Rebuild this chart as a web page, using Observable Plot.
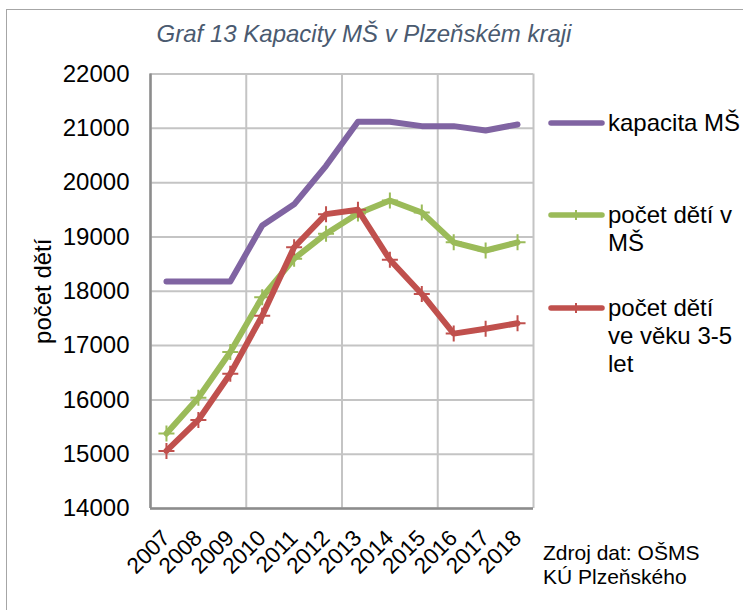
<!DOCTYPE html>
<html>
<head>
<meta charset="utf-8">
<script src="https://cdn.jsdelivr.net/npm/d3@7"></script>
<script src="https://cdn.jsdelivr.net/npm/@observablehq/plot@0.6"></script>
<style>
  html, body { margin: 0; padding: 0; background: #fff; }
  #wrap { position: relative; width: 743px; height: 610px; overflow: hidden; font-family: "Liberation Sans", Arial, sans-serif; }
  #border { position: absolute; left: 6px; top: 9px; width: 800px; height: 700px; border: 1.5px solid #a6a6a6; box-sizing: border-box; }
  #chart { position: absolute; left: 0; top: 0; }
  #title { position: absolute; left: 0; width: 728px; top: 20px; text-align: center; font-style: italic; font-size: 24px; color: #4a5a70; white-space: nowrap; }
  .leg { position: absolute; left: 547px; }
  .leg svg { position: absolute; left: 0; top: 0; }
  .leg .txt { position: absolute; left: 61px; top: 0; font-size: 24px; line-height: 28px; color: #000; white-space: nowrap; }
  #source { position: absolute; left: 543px; top: 541px; font-size: 21px; line-height: 23.5px; color: #000; white-space: nowrap; }
</style>
</head>
<body>
<div id="wrap">
  <div id="border"></div>
  <div id="chart"></div>
  <div id="title">Graf 13 Kapacity MŠ v Plzeňském kraji</div>
  <div id="legend"></div>
  <div id="source">Zdroj dat: OŠMS<br>KÚ Plzeňského</div>
</div>
<script>
const years = [2007, 2008, 2009, 2010, 2011, 2012, 2013, 2014, 2015, 2016, 2017, 2018];
const kapacitaMS = [18180, 18180, 18180, 19210, 19600, 20310, 21120, 21120, 21040, 21040, 20960, 21070];
const detiVMS = [15380, 16040, 16880, 17890, 18600, 19060, 19430, 19670, 19450, 18900, 18750, 18900];
const deti35 = [15060, 15630, 16480, 17550, 18810, 19420, 19500, 18580, 17950, 17220, 17310, 17410];
const yTicks = [14000, 15000, 16000, 17000, 18000, 19000, 20000, 21000, 22000];
const seriesNames = ["kapacita MŠ", "počet dětí v\nMŠ", "počet dětí\nve věku 3-5\nlet"];
const seriesColors = ["#8064A2", "#9BBB59", "#C0504D"];
const yLabel = "počet dětí";

const rows = (vals, s) => years.map((y, i) => ({year: y, value: vals[i], series: s}));
const dK = rows(kapacitaMS, 0), dM = rows(detiVMS, 1), dR = rows(deti35, 2);

// vertical gridlines every 3 categories (category boundaries)
const xGrid = years.filter((d, i) => i % 3 === 0).map(d => d - 0.5).concat([years[years.length - 1] + 0.5]);

const plusSym = {
  draw(ctx, size) {
    const r = Math.sqrt(size / Math.PI);
    ctx.moveTo(-r, 0); ctx.lineTo(r, 0);
    ctx.moveTo(0, -r); ctx.lineTo(0, r);
  }
};

const chart = Plot.plot({
  width: 743,
  height: 610,
  marginLeft: 150,
  marginRight: 210,
  marginTop: 73.5,
  marginBottom: 102,
  style: {fontFamily: "'Liberation Sans', Arial, sans-serif", fontSize: "24px", color: "#000", background: "transparent", overflow: "visible"},
  x: {type: "linear", domain: [years[0] - 0.5, years[years.length - 1] + 0.5], axis: null},
  y: {type: "linear", domain: [yTicks[0], yTicks[yTicks.length - 1]], axis: null},
  marks: [
    Plot.ruleY(yTicks, {stroke: "#c4c4c4", strokeWidth: 2}),
    Plot.ruleX(xGrid, {stroke: "#c4c4c4", strokeWidth: 2}),
    Plot.ruleX([xGrid[0]], {stroke: "#8c8c8c", strokeWidth: 2.5}),
    Plot.ruleY([yTicks[0]], {stroke: "#8c8c8c", strokeWidth: 2.5}),
    Plot.axisY(yTicks, {tickSize: 0, tickPadding: 21, tickFormat: d3.format("d"), fontSize: 24, label: null}),
    Plot.text(years, {x: d => d, frameAnchor: "bottom", rotate: -45, textAnchor: "end", lineAnchor: "bottom", dx: 5, dy: 31, fontSize: 22.5, text: d => String(d)}),
    Plot.text([yLabel], {frameAnchor: "left", dx: -107, rotate: -90, textAnchor: "middle", lineAnchor: "middle", fontSize: 24}),
    Plot.line(dK, {x: "year", y: "value", stroke: seriesColors[0], strokeWidth: 6, strokeLinejoin: "round", strokeLinecap: "round"}),
    Plot.line(dM, {x: "year", y: "value", stroke: seriesColors[1], strokeWidth: 6, strokeLinejoin: "round", strokeLinecap: "round"}),
    Plot.dot(dM, {x: "year", y: "value", symbol: plusSym, r: 8, fill: "none", stroke: seriesColors[1], strokeWidth: 2}),
    Plot.line(dR, {x: "year", y: "value", stroke: seriesColors[2], strokeWidth: 6, strokeLinejoin: "round", strokeLinecap: "round"}),
    Plot.dot(dR, {x: "year", y: "value", symbol: plusSym, r: 8, fill: "none", stroke: seriesColors[2], strokeWidth: 2})
  ]
});
document.getElementById("chart").appendChild(chart);

// legend
const legTops = [109, 201, 294];
const legend = document.getElementById("legend");
seriesNames.forEach((name, i) => {
  const div = document.createElement("div");
  div.className = "leg";
  div.style.top = legTops[i] + "px";
  const marker = i > 0 ? `<line x1="29" x2="29" y1="9" y2="19" stroke="${seriesColors[i]}" stroke-width="2"/>` : "";
  div.innerHTML = `<svg width="60" height="28"><line x1="4" x2="55" y1="14" y2="14" stroke="${seriesColors[i]}" stroke-width="5.5" stroke-linecap="round"/>${marker}</svg>` +
    `<div class="txt">${name.split("\n").join("<br>")}</div>`;
  legend.appendChild(div);
});
</script>
</body>
</html>
